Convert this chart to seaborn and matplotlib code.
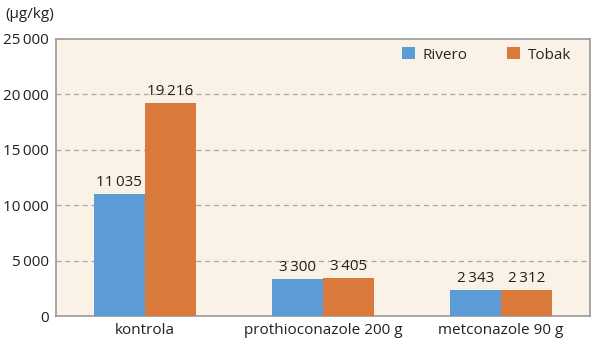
import matplotlib
matplotlib.use("Agg")
import matplotlib.pyplot as plt
import seaborn as sns
import pandas as pd

categories = ["kontrola", "prothioconazole 200 g", "metconazole 90 g"]
series = ["Rivero", "Tobak"]
rivero = [11035, 3300, 2343]
tobak = [19216, 3405, 2312]
yticks = [0, 5000, 10000, 15000, 20000, 25000]

def fmt(v):
    s = f"{v:,}".replace(",", "\u2009")
    return s

df = pd.DataFrame({
    "cat": categories * 2,
    "series": [series[0]] * 3 + [series[1]] * 3,
    "value": rivero + tobak,
})

sns.set_theme(style="white")
plt.rcParams["font.family"] = ["Open Sans", "DejaVu Sans"]

FS = 11
fig = plt.figure(figsize=(6, 3.44), dpi=100)
ax = fig.add_axes([56/600, 1-316/344, (590-56)/600, (316-39)/344])
ax.set_facecolor("#FBF2E7")

palette = {"Rivero": "#5B9BD6", "Tobak": "#D97A3C"}
sns.barplot(data=df, x="cat", y="value", hue="series", palette=palette,
            width=0.575, ax=ax, saturation=1, edgecolor="none", zorder=3)

ax.set_xlim(-0.5, 2.5)
ax.set_ylim(0, 25000)
ax.set_yticks(yticks)
ax.set_yticklabels([fmt(v) for v in yticks], fontsize=FS, color="#231F20")
ax.tick_params(axis="x", labelsize=FS, colors="#231F20", length=0, pad=5)
ax.tick_params(axis="y", length=0, pad=5)
ax.set_xlabel("")
ax.set_ylabel("")

for v in yticks[1:-1]:
    ax.axhline(v, color="#A8A8A8", lw=0.9, ls=(0, (4, 3)), zorder=1)

for sp in ax.spines.values():
    sp.set_color("#9A9A9A")
    sp.set_linewidth(1.2)

for cont in ax.containers:
    ax.bar_label(cont, labels=[fmt(int(v)) for v in cont.datavalues],
                 padding=3, fontsize=FS, color="#231F20")

leg = ax.legend(loc="upper right", ncol=2, frameon=False, fontsize=FS,
                handlelength=0.85, handleheight=0.85, columnspacing=2.6,
                handletextpad=0.5, bbox_to_anchor=(0.99, 1.02))

fig.text(5/600, 1-15/344, "(\u00b5g/kg)", fontsize=FS, color="#231F20", va="center")

fig.savefig("out.png", dpi=100)
